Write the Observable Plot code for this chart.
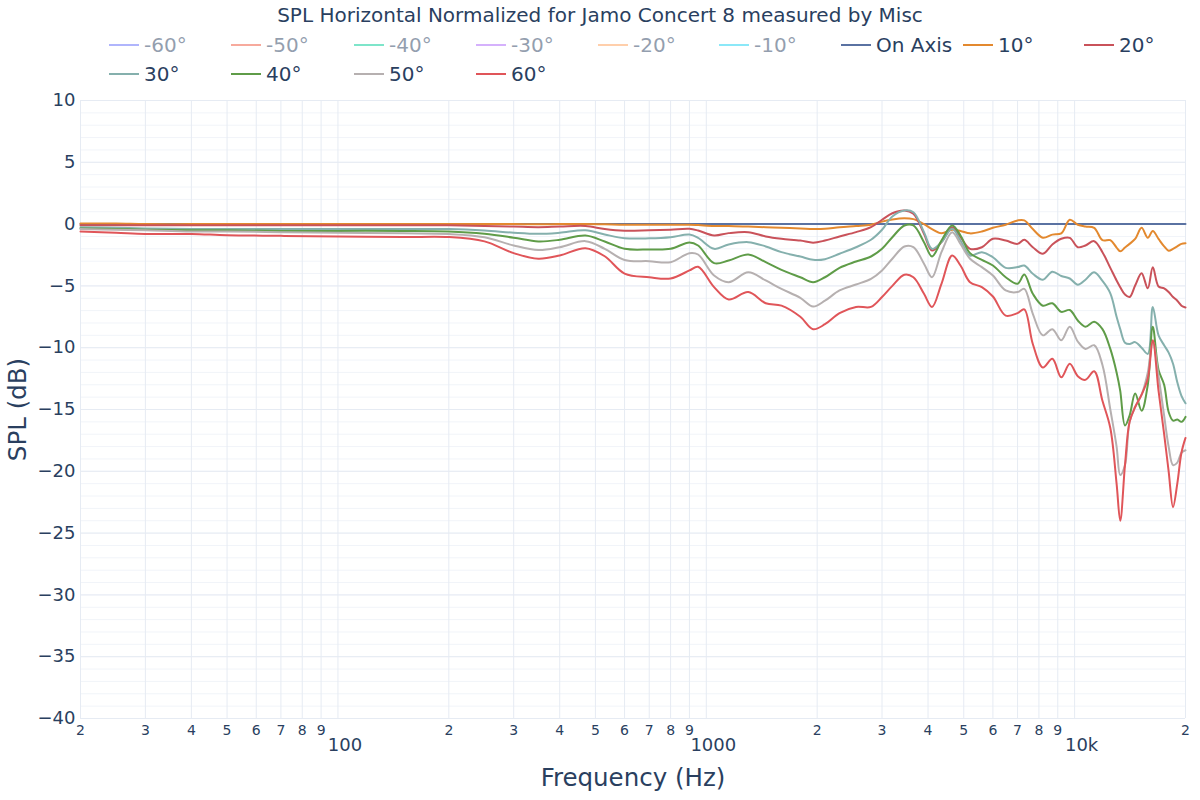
<!DOCTYPE html>
<html><head><meta charset="utf-8">
<script src="https://cdn.jsdelivr.net/npm/d3@7"></script>
<script src="https://cdn.jsdelivr.net/npm/@observablehq/plot@0.6"></script>
<style>
body{margin:0;background:#fff;font-family:"DejaVu Sans",sans-serif;}
#wrap{position:relative;width:1200px;height:800px;overflow:hidden;}
#chart{position:absolute;top:0;left:0;}
#title{position:absolute;top:3px;left:0;width:1200px;text-align:center;font-size:20px;color:#2a3f5f;}
.leg{position:absolute;display:flex;align-items:center;font-size:20px;color:#2a3f5f;white-space:nowrap;height:26px;}
.leg .sw{width:30px;height:2px;margin-right:5px;}
.leg.off{opacity:0.5;}
</style></head><body>
<div id="wrap"><div id="chart"></div><div id="title">SPL Horizontal Normalized for Jamo Concert 8 measured by Misc</div><div id="legend"></div></div>
<script>
// ---- data ----
const freqHz = [20,25,30,40,50,70,100,150,200,250,300,350,400,470,
  530,600,700,800,900,950,
  1050,1150,1300,1450,1600,1800,1950,2100,2300,2550,
  2800,3000,3200,3450,3650,3900,4100,4350,4650,4900,
  5200,5600,6000,6500,7000,7300,7700,8200,8700,9200,
  9700,10200,10700,11300,11900,12500,13000,13300,13700,14100,
  14600,15200,15800,16300,16900,17500,18000,18500,19000,19500,20000];

const onAxis = [0,0,0,0,0,0,0,0,0,0,0,0,0,0,
  0,0,0,0,0,0,
  0,0,0,0,0,0,0,0,0,0,
  0,0,0,0,0,0,0,0,0,0,
  0,0,0,0,0,0,0,0,0,0,
  0,0,0,0,0,0,0,0,0,0,
  0,0,0,0,0,0,0,0,0,0,0];

const deg10 = [0.05,0.05,0.0,0.0,0.0,0.0,0.0,0.0,0.0,0.0,0.0,-0.02,0.0,0.0,
  -0.02,-0.05,-0.05,-0.05,-0.05,-0.08,
  -0.15,-0.15,-0.2,-0.25,-0.3,-0.35,-0.4,-0.38,-0.25,-0.15,
  -0.05,0.2,0.38,0.48,0.4,0.0,-0.4,-0.74,-0.45,-0.55,
  -0.75,-0.6,-0.3,-0.05,0.3,0.3,-0.4,-1.1,-0.85,-0.75,
  0.35,-0.05,-0.2,-0.3,-1.3,-1.3,-1.9,-2.2,-1.9,-1.6,
  -1.2,-0.3,-1.1,-0.55,-1.2,-1.8,-2.15,-2.0,-1.8,-1.6,-1.55];

const deg20 = [-0.1,-0.1,-0.1,-0.1,-0.1,-0.1,-0.1,-0.1,-0.1,-0.15,-0.2,-0.25,-0.2,-0.15,
  -0.4,-0.54,-0.5,-0.45,-0.38,-0.52,
  -0.92,-0.73,-0.65,-1.0,-1.19,-1.33,-1.5,-1.33,-1.0,-0.65,
  -0.25,0.35,0.88,1.1,0.83,-0.79,-2.14,-1.46,-0.25,-1.06,
  -2.0,-1.87,-1.19,-1.33,-1.6,-1.27,-1.87,-2.4,-1.65,-1.19,
  -1.11,-1.87,-1.73,-1.38,-2.27,-3.54,-4.56,-5.1,-5.7,-5.9,
  -4.97,-3.97,-5.2,-3.5,-5.05,-5.2,-5.5,-5.9,-6.2,-6.6,-6.75];

const deg30 = [-0.25,-0.3,-0.35,-0.4,-0.4,-0.4,-0.4,-0.4,-0.4,-0.52,-0.7,-0.79,-0.7,-0.5,
  -0.84,-1.14,-1.15,-1.06,-0.85,-1.11,
  -2.0,-1.65,-1.46,-1.81,-2.27,-2.62,-2.89,-2.84,-2.4,-1.87,
  -1.27,-0.46,0.62,1.1,0.96,-0.65,-2.0,-1.46,-0.38,-1.33,
  -2.54,-2.27,-2.68,-3.54,-3.48,-3.35,-4.02,-4.5,-3.85,-4.2,
  -4.4,-4.9,-4.5,-3.9,-4.6,-5.6,-7.5,-8.5,-9.6,-9.7,
  -9.55,-10.0,-10.5,-6.7,-9.0,-9.8,-10.4,-11.3,-12.8,-13.9,-14.5];

const deg40 = [-0.35,-0.4,-0.45,-0.5,-0.5,-0.55,-0.55,-0.55,-0.6,-0.79,-1.1,-1.4,-1.27,-0.92,
  -1.41,-2.0,-2.05,-2.0,-1.49,-1.73,
  -3.16,-2.95,-2.46,-3.08,-3.7,-4.3,-4.7,-4.3,-3.54,-3.03,
  -2.62,-2.0,-1.06,-0.11,-0.11,-1.46,-2.62,-1.33,-0.11,-0.92,
  -2.35,-2.89,-3.35,-4.3,-4.83,-4.08,-5.64,-6.6,-6.4,-7.1,
  -6.95,-7.8,-8.3,-7.9,-8.5,-10.1,-12.0,-13.5,-16.3,-15.5,
  -13.7,-15.1,-13.0,-8.3,-11.8,-13.0,-15.2,-15.9,-15.8,-16.0,-15.6];

const deg50 = [-0.4,-0.45,-0.5,-0.6,-0.6,-0.65,-0.7,-0.75,-0.8,-1.06,-1.73,-2.1,-1.87,-1.38,
  -2.0,-2.9,-3.0,-3.08,-2.35,-2.46,
  -4.16,-4.7,-3.9,-4.56,-5.24,-5.97,-6.67,-6.2,-5.37,-4.89,
  -4.43,-3.75,-2.8,-1.81,-1.86,-3.2,-4.3,-2.27,-0.65,-1.6,
  -2.8,-3.48,-4.16,-5.37,-5.5,-5.24,-7.26,-9.0,-8.5,-9.4,
  -8.3,-9.5,-10.1,-9.8,-11.4,-15.0,-18.0,-20.3,-19.5,-16.0,
  -14.8,-13.8,-12.0,-9.5,-12.3,-15.5,-18.0,-19.5,-19.3,-18.5,-18.3];

const deg60 = [-0.6,-0.7,-0.8,-0.8,-0.9,-0.95,-1.0,-1.05,-1.05,-1.4,-2.35,-2.8,-2.54,-1.95,
  -2.6,-4.0,-4.3,-4.4,-3.75,-3.45,
  -5.1,-6.1,-5.5,-6.4,-6.6,-7.5,-8.5,-8.1,-7.2,-6.7,
  -6.7,-5.9,-5.0,-4.1,-4.3,-5.64,-6.7,-4.83,-2.54,-3.35,
  -4.7,-5.1,-5.86,-7.4,-7.2,-6.9,-9.7,-11.6,-10.9,-12.4,
  -11.3,-12.3,-12.6,-11.9,-14.3,-16.5,-21.0,-24.0,-19.5,-16.0,
  -14.8,-13.8,-12.5,-9.4,-13.5,-17.0,-20.0,-22.9,-21.0,-18.5,-17.3];

const hiddenNames = ["-60°","-50°","-40°","-30°","-20°","-10°"];
const hiddenColors = ["#636efa","#ef553b","#00cc96","#ab63fa","#ffa15a","#19d3f3"];
const shownNames = ["On Axis","10°","20°","30°","40°","50°","60°"];
const shownColors = ["#5a72a2","#e3892f","#c9525a","#85b0ad","#5f9c48","#b6b0b0","#e05559"];
const shownValues = [onAxis, deg10, deg20, deg30, deg40, deg50, deg60];

const yTicks = [10,5,0,-5,-10,-15,-20,-25,-30,-35,-40];
const xMinorTicks = [20,30,40,50,60,70,80,90,200,300,400,500,600,700,800,900,2000,3000,4000,5000,6000,7000,8000,9000,20000];
const xMinorLabels = ["2","3","4","5","6","7","8","9","2","3","4","5","6","7","8","9","2","3","4","5","6","7","8","9","2"];
const xMajorTicks = [100,1000,10000];
const xMajorLabels = ["100","1000","10k"];

// ---- build ----
const rows = shownNames.flatMap((name, k) => freqHz.map((f, i) => ({f, v: shownValues[k][i], name})));
const yMinor = d3.range(-40, 11, 1);
const xGrid = xMinorTicks.concat(xMajorTicks);
const minorIdx = d3.range(xMinorTicks.length);
const majorIdx = d3.range(xMajorTicks.length);

const chart = Plot.plot({
  width: 1200, height: 800,
  marginTop: 100, marginBottom: 82, marginLeft: 80, marginRight: 15,
  style: {fontFamily: "DejaVu Sans", color: "#2a3f5f", background: "transparent"},
  x: {type: "log", domain: [20, 20000], axis: null},
  y: {domain: [-40, 10], axis: null},
  color: {domain: shownNames, range: shownColors},
  marks: [
    Plot.gridY(yMinor, {stroke: "#f1f4f9", strokeOpacity: 1}),
    Plot.gridY(yTicks, {stroke: "#e6ebf3", strokeOpacity: 1}),
    Plot.gridX(xGrid, {stroke: "#e6ebf3", strokeOpacity: 1}),
    Plot.text(yTicks, {y: d => d, frameAnchor: "left", textAnchor: "end", dx: -5,
      text: d => String(d).replace("-", "\u2212"), fontSize: 18, fill: "#2a3f5f"}),
    Plot.text(minorIdx, {x: i => xMinorTicks[i], frameAnchor: "bottom", dy: 16,
      text: i => xMinorLabels[i], fontSize: 14, fill: "#2a3f5f"}),
    Plot.text(majorIdx, {x: i => xMajorTicks[i], frameAnchor: "bottom", dy: 32, dx: 7,
      text: i => xMajorLabels[i], fontSize: 18, fill: "#2a3f5f"}),
    Plot.line(rows, {x: "f", y: "v", z: "name", stroke: "name", strokeWidth: 2, curve: "catmull-rom"}),
    Plot.text(["Frequency (Hz)"], {frameAnchor: "bottom", dy: 67, fontSize: 24.5, fill: "#2a3f5f"}),
    Plot.text(["SPL (dB)"], {frameAnchor: "left", dx: -62, rotate: -90, textAnchor: "middle", fontSize: 24.5, fill: "#2a3f5f"})
  ]
});
document.getElementById("chart").appendChild(chart);

// ---- legend ----
const legend = document.getElementById("legend");
const row1Left = [109,231,354,476,598,719,841,963,1084];
const row2Left = [109,231,354,476];
const items = hiddenNames.map((n,i)=>({n, c: hiddenColors[i], off: true}))
  .concat(shownNames.map((n,i)=>({n, c: shownColors[i], off: false})));
items.forEach((it, i) => {
  const el = document.createElement("div");
  el.className = "leg" + (it.off ? " off" : "");
  const left = i < 9 ? row1Left[i] : row2Left[i - 9];
  const cy = i < 9 ? 45 : 74;
  el.style.left = left + "px";
  el.style.top = (cy - 13) + "px";
  el.innerHTML = `<span class="sw" style="background:${it.c}"></span><span>${it.n}</span>`;
  legend.appendChild(el);
});
</script>
</body></html>
